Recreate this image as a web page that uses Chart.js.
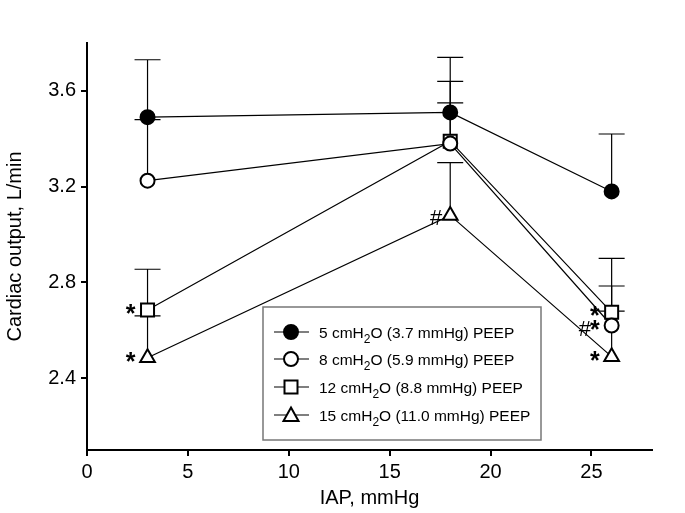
<!DOCTYPE html>
<html>
<head>
<meta charset="utf-8">
<script src="https://cdn.jsdelivr.net/npm/chart.js@4"></script>
<style>
  body { margin: 0; background: #fff; }
  #wrap { width: 685px; height: 513px; }
</style>
</head>
<body>
<div id="wrap"><canvas id="coChart"></canvas></div>
<script>
// IAP levels (mmHg)
const iapLevels = [3, 18, 26];

// cardiac output means and upper error ends, L/min
const peep5 = [3.49, 3.51, 3.18];
const peep5Err = [3.73, 3.74, 3.42];
const peep8 = [3.225, 3.38, 2.62];
const peep8Err = [3.48, 3.55, 2.785];
const peep12 = [2.685, 3.39, 2.675];
const peep12Err = [2.855, 3.64, 2.90];
const peep15 = [2.485, 3.08, 2.49];
const peep15Err = [2.66, 3.30, 2.68];

const seriesLabels = [
    ['5 cmH', '2', 'O (3.7 mmHg) PEEP'],
    ['8 cmH', '2', 'O (5.9 mmHg) PEEP'],
    ['12 cmH', '2', 'O (8.8 mmHg) PEEP'],
    ['15 cmH', '2', 'O (11.0 mmHg) PEEP']
];

const xTicks = [0, 5, 10, 15, 20, 25];
const yTicks = [2.4, 2.8, 3.2, 3.6];

// significance marks: series index, point index, text
const sigMarks = [
    { s: 2, i: 0, t: '*' },
    { s: 3, i: 0, t: '*' },
    { s: 3, i: 1, t: '#' },
    { s: 2, i: 2, t: '*' },
    { s: 1, i: 2, t: '#*' },
    { s: 3, i: 2, t: '*' }
];

const means = [peep5, peep8, peep12, peep15];
const errs = [peep5Err, peep8Err, peep12Err, peep15Err];
const FONT = "'Liberation Sans', Arial, sans-serif";

function toPoints(arr) {
    return arr.map((v, i) => ({ x: iapLevels[i], y: v }));
}

const errorBars = {
    id: 'errorBars',
    beforeDatasetsDraw(chart) {
        const ctx = chart.ctx, xs = chart.scales.x, ys = chart.scales.y;
        ctx.save();
        ctx.strokeStyle = '#000';
        ctx.lineWidth = 1.2;
        errs.forEach((e, s) => {
            e.forEach((v, i) => {
                const px = xs.getPixelForValue(iapLevels[i]);
                const py = ys.getPixelForValue(means[s][i]);
                const pe = ys.getPixelForValue(v);
                ctx.beginPath();
                ctx.moveTo(px, py);
                ctx.lineTo(px, pe);
                ctx.moveTo(px - 13, pe);
                ctx.lineTo(px + 13, pe);
                ctx.stroke();
            });
        });
        ctx.restore();
    }
};

function drawMarker(ctx, kind, x, y) {
    ctx.beginPath();
    if (kind === 0 || kind === 1) {
        ctx.arc(x, y, 7, 0, Math.PI * 2);
    } else if (kind === 2) {
        ctx.rect(x - 6.5, y - 6.5, 13, 13);
    } else {
        ctx.moveTo(x, y - 7.5);
        ctx.lineTo(x + 7.5, y + 6);
        ctx.lineTo(x - 7.5, y + 6);
        ctx.closePath();
    }
    ctx.fillStyle = kind === 0 ? '#000' : '#fff';
    ctx.fill();
    ctx.lineWidth = 2;
    ctx.strokeStyle = '#000';
    ctx.stroke();
}

const extras = {
    id: 'extras',
    afterDraw(chart) {
        const ctx = chart.ctx, xs = chart.scales.x, ys = chart.scales.y;
        ctx.save();
        // significance marks
        ctx.fillStyle = '#000';
        ctx.textAlign = 'right';
        ctx.textBaseline = 'alphabetic';
        sigMarks.forEach(m => {
            const px = xs.getPixelForValue(iapLevels[m.i]);
            const py = ys.getPixelForValue(means[m.s][m.i]);
            let right = px - (m.t === '#' ? 8 : 12);
            for (let k = m.t.length - 1; k >= 0; k--) {
                const ch = m.t[k];
                ctx.font = ch === '*' ? 'bold 25px ' + FONT : '22px ' + FONT;
                const off = ch === '*' ? 12 : 10;
                ctx.fillText(ch, right, py + off);
                right -= ctx.measureText(ch).width - 1;
            }
        });

        // legend box
        const bx = 263, by = 307, bw = 278, bh = 133;
        ctx.strokeStyle = '#777';
        ctx.lineWidth = 1.5;
        ctx.strokeRect(bx, by, bw, bh);
        const rows = [332, 359, 387, 415];
        ctx.textAlign = 'left';
        rows.forEach((ry, k) => {
            ctx.strokeStyle = '#000';
            ctx.lineWidth = 1.2;
            ctx.beginPath();
            ctx.moveTo(274, ry);
            ctx.lineTo(309, ry);
            ctx.stroke();
            drawMarker(ctx, k, 291, ry);
            const parts = seriesLabels[k];
            let tx = 319;
            ctx.fillStyle = '#000';
            ctx.font = '15.5px ' + FONT;
            ctx.fillText(parts[0], tx, ry + 6);
            tx += ctx.measureText(parts[0]).width;
            ctx.font = '12px ' + FONT;
            ctx.fillText(parts[1], tx, ry + 11);
            tx += ctx.measureText(parts[1]).width;
            ctx.font = '15.5px ' + FONT;
            ctx.fillText(parts[2], tx, ry + 6);
        });
        ctx.restore();
    }
};

const ctx = document.getElementById('coChart').getContext('2d');
const coChart = new Chart(ctx, {
    type: 'line',
    data: {
        datasets: [{
            label: 'PEEP 5',
            data: toPoints(peep5),
            pointStyle: 'circle',
            pointRadius: 7,
            backgroundColor: '#000'
        }, {
            label: 'PEEP 8',
            data: toPoints(peep8),
            pointStyle: 'circle',
            pointRadius: 7,
            backgroundColor: '#fff'
        }, {
            label: 'PEEP 12',
            data: toPoints(peep12),
            pointStyle: 'rect',
            pointRadius: 9.2,
            backgroundColor: '#fff'
        }, {
            label: 'PEEP 15',
            data: toPoints(peep15),
            pointStyle: 'triangle',
            pointRadius: 8.5,
            backgroundColor: '#fff'
        }].map(d => Object.assign(d, {
            borderColor: '#000',
            borderWidth: 1.2,
            pointBorderWidth: 2,
            pointBackgroundColor: d.backgroundColor,
            pointHoverRadius: d.pointRadius,
            tension: 0
        }))
    },
    options: {
        responsive: true,
        maintainAspectRatio: false,
        animation: false,
        layout: { padding: { top: 43, right: 33, left: 0, bottom: 0 } },
        plugins: { legend: { display: false }, tooltip: { enabled: false } },
        scales: {
            x: {
                type: 'linear',
                min: 0,
                max: 28,
                afterBuildTicks: s => { s.ticks = xTicks.map(v => ({ value: v })); },
                afterFit: s => { s.height = 63; },
                border: { color: '#000', width: 2 },
                grid: { drawOnChartArea: false, color: '#000', lineWidth: 2, tickLength: 6 },
                ticks: { color: '#000', padding: 4, font: { family: FONT, size: 20 } },
                title: {
                    display: true, text: 'IAP, mmHg', color: '#000',
                    padding: { top: 0, bottom: 3 },
                    font: { family: FONT, size: 20 }
                }
            },
            y: {
                min: 2.1,
                max: 3.8,
                afterBuildTicks: s => { s.ticks = yTicks.map(v => ({ value: v })); },
                afterFit: s => { s.width = 87; },
                border: { color: '#000', width: 2 },
                grid: { drawOnChartArea: false, color: '#000', lineWidth: 2, tickLength: 6 },
                ticks: { color: '#000', padding: 5, font: { family: FONT, size: 20 },
                    callback: v => v.toFixed(1) },
                title: {
                    display: true, text: 'Cardiac output, L/min', color: '#000',
                    padding: { top: 3, bottom: 0 },
                    font: { family: FONT, size: 20 }
                }
            }
        }
    },
    plugins: [errorBars, extras]
});
</script>
</body>
</html>
